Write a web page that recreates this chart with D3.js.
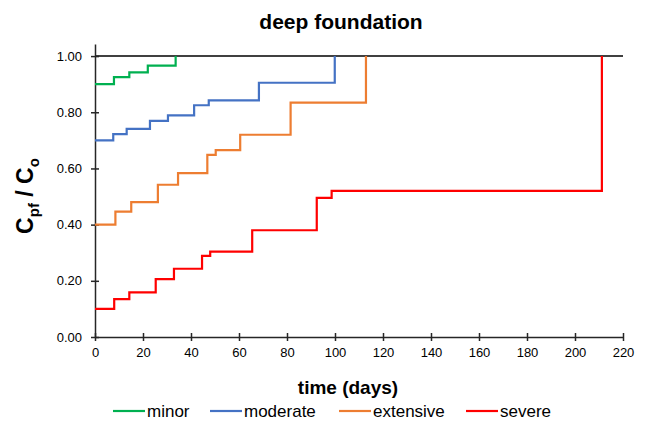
<!DOCTYPE html>
<html lang='en'>
  <head>
    <meta charset='utf-8'>
    <title>deep foundation</title>
    <script src='https://d3js.org/d3.v7.min.js'></script>
    <style>
      html, body { margin: 0; padding: 0; background: #fff; }
      svg { font-family: 'Liberation Sans', Arial, sans-serif; }
    </style>
  </head>
  <body>
    <div class='vis'></div>
    <script>
      // step data: [day, ratio]
      const minorDays = [0, 7.9, 14.3, 22, 33.6];
      const minorVals = [0.90, 0.925, 0.942, 0.966, 1.00];
      const moderateDays = [0, 7.6, 13.2, 22.9, 30.4, 41.3, 47.4, 68.3, 99.9];
      const moderateVals = [0.70, 0.722, 0.741, 0.769, 0.789, 0.825, 0.842, 0.905, 1.00];
      const extensiveDays = [0, 8.5, 15.1, 26.2, 34.6, 46.8, 50.3, 60.5, 81.5, 112.9];
      const extensiveVals = [0.40, 0.446, 0.480, 0.542, 0.583, 0.648, 0.665, 0.72, 0.834, 1.00];
      const severeDays = [0, 8, 14.3, 25.3, 32.9, 44.6, 48, 65.5, 92.4, 98.6, 211.2];
      const severeVals = [0.10, 0.135, 0.159, 0.206, 0.243, 0.289, 0.304, 0.38, 0.495, 0.52, 1.00];

      const seriesNames = ['minor', 'moderate', 'extensive', 'severe'];
      const seriesColors = ['#00B050', '#4472C4', '#ED7D31', '#FF0000'];
      const xTicks = [0, 20, 40, 60, 80, 100, 120, 140, 160, 180, 200, 220];
      const yTicks = [0, 0.2, 0.4, 0.6, 0.8, 1.0];

      const series = [
        [minorDays, minorVals],
        [moderateDays, moderateVals],
        [extensiveDays, extensiveVals],
        [severeDays, severeVals]
      ].map(([days, vals], i) => ({
        name: seriesNames[i],
        color: seriesColors[i],
        points: days.map((d, j) => [d, vals[j]])
      }));

      const W = 646, H = 425;
      const svg = d3.select('.vis').append('svg')
        .attr('width', W).attr('height', H);

      const xScale = d3.scaleLinear().domain([0, 220]).range([95, 623]);
      const yScale = d3.scaleLinear().domain([0, 1.043]).range([337, 44]);

      // top reference line at 1.00
      svg.append('line')
        .attr('x1', xScale(0)).attr('x2', xScale(220))
        .attr('y1', yScale(1)).attr('y2', yScale(1))
        .attr('stroke', '#000').attr('stroke-width', 1.5);

      // axes
      const yAxis = svg.append('g')
        .attr('transform', 'translate(' + xScale(0) + ',0)')
        .call(d3.axisLeft(yScale).tickValues(yTicks).tickFormat(d3.format('.2f')).tickSize(0).tickPadding(13));
      yAxis.selectAll('.tick line').attr('x1', -4).attr('x2', 4);

      const xAxis = svg.append('g')
        .attr('transform', 'translate(0,' + yScale(0) + ')')
        .call(d3.axisBottom(xScale).tickValues(xTicks).tickSize(0).tickPadding(11));
      xAxis.selectAll('.tick line').attr('y1', -4).attr('y2', 4);

      [yAxis, xAxis].forEach((ax) => {
        ax.select('.domain').attr('stroke', '#262626').attr('stroke-width', 1.5);
        ax.selectAll('.tick line').attr('stroke', '#262626').attr('stroke-width', 1.5);
        ax.selectAll('.tick text').attr('fill', '#000').style('font-size', '13px')
          .style('font-family', "'Liberation Sans', Arial, sans-serif");
      });

      // step lines
      const line = d3.line()
        .x((d) => xScale(d[0]))
        .y((d) => yScale(d[1]))
        .curve(d3.curveStepAfter);

      svg.selectAll('path.series')
        .data(series).enter()
        .append('path')
          .attr('class', 'series')
          .attr('d', (d) => line(d.points))
          .attr('fill', 'none')
          .attr('stroke', (d) => d.color)
          .attr('stroke-width', 2.2);

      // title
      svg.append('text')
        .attr('x', 341).attr('y', 29)
        .attr('text-anchor', 'middle')
        .style('font-size', '21px').style('font-weight', 'bold')
        .text('deep foundation');

      // x label
      svg.append('text')
        .attr('x', 348).attr('y', 394)
        .attr('text-anchor', 'middle')
        .style('font-size', '19px').style('font-weight', 'bold')
        .text('time (days)');

      // y label
      const yl = svg.append('text')
        .attr('transform', 'translate(33,' + 196 + ') rotate(-90)')
        .attr('text-anchor', 'middle')
        .style('font-size', '23px').style('font-weight', 'bold');
      yl.append('tspan').text('C');
      yl.append('tspan').attr('dy', 6).style('font-size', '15px').text('pf');
      yl.append('tspan').attr('dy', -6).text(' / C');
      yl.append('tspan').attr('dy', 6).style('font-size', '15px').text('o');

      // legend
      const legendX = [113, 210, 339, 466];
      const leg = svg.selectAll('g.legend')
        .data(series).enter()
        .append('g')
          .attr('class', 'legend')
          .attr('transform', (d, i) => 'translate(' + legendX[i] + ',411)');
      leg.append('line')
        .attr('x1', 0).attr('x2', 32)
        .attr('stroke', (d) => d.color).attr('stroke-width', 2.2);
      leg.append('text')
        .attr('x', 34).attr('dy', '0.35em')
        .style('font-size', '17px')
        .text((d) => d.name);
    </script>
  </body>
</html>
